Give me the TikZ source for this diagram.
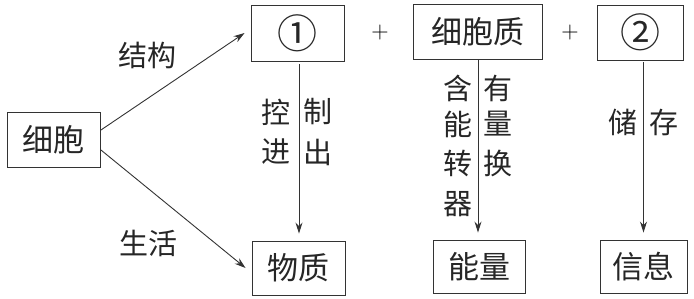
\documentclass[tikz,border=0pt]{standalone}
\usepackage{fontspec}
\newfontfamily\cjk{Noto Sans CJK SC}
\usetikzlibrary{arrows.meta}
\begin{document}
\begin{tikzpicture}[x=1pt,y=-1pt,
  box/.style={draw=black!80,line width=0.9pt,inner sep=0pt,font=\cjk\fontsize{31}{36}\selectfont,text=black!85},
  lbl/.style={inner sep=0pt,font=\cjk\fontsize{29}{34}\selectfont,text=black!85},
  circ/.style={font=\cjk\fontsize{40}{44}\selectfont},
  conn/.style={draw=black!80,line width=0.9pt,-{Stealth[length=11pt,width=7pt]}},
  plus/.style={inner sep=0pt,font=\fontsize{24}{28}\selectfont,text=black}]
\useasboundingbox (0,0) rectangle (694,298);
\node[box,minimum width=93pt,minimum height=55pt] (cell) at (54,140) {细胞};
\node[box,circ,minimum width=93pt,minimum height=56pt] (n1) at (297.5,33) {①};
\node[box,minimum width=129pt,minimum height=55pt] (cyto) at (477.5,31.5) {细胞质};
\node[box,circ,minimum width=86pt,minimum height=55pt] (n2) at (640,32.5) {②};
\node[box,minimum width=93pt,minimum height=54pt] (wz) at (298.5,268) {物质};
\node[box,minimum width=92pt,minimum height=53pt] (nl) at (479,266.5) {能量};
\node[box,minimum width=87pt,minimum height=53pt] (xx) at (643.5,266.5) {信息};
\node[plus] (p1) at (380,33) {+};
\node[plus] (p2) at (570,33) {+};
\draw[conn] ([yshift=10pt]cell.east) -- ([xshift=-6pt]n1.west);
\draw[conn] ([yshift=-10pt]cell.east) -- ([xshift=-6pt]wz.west);
\draw[conn,shorten <=3pt,shorten >=7pt] ([xshift=1.5pt]n1.south) -- ([xshift=1.5pt]n1.south |- wz.north);
\draw[conn,shorten <=1pt,shorten >=7pt] ([xshift=0.5pt]cyto.south) -- ([xshift=0.5pt]cyto.south |- nl.north);
\draw[conn,shorten <=2pt,shorten >=7pt] (xx.north |- n2.south) -- (xx.north);
\node[lbl] (l1) at (147,55) {结构};
\node[lbl] (l2) at (148,243) {生活};
\node[lbl] (k1) at (276,112) {控};
\node[lbl] (k2) at (276,152) {进};
\node[lbl] (k3) at (318,112) {制};
\node[lbl] (k4) at (318,152) {出};
\node[lbl] (h1) at (458,88) {含};
\node[lbl] (h2) at (458,124) {能};
\node[lbl] (h3) at (458,163) {转};
\node[lbl] (h4) at (458,204) {器};
\node[lbl] (y1) at (498,88) {有};
\node[lbl] (y2) at (498,124) {量};
\node[lbl] (y3) at (498,163) {换};
\node[lbl] (c1) at (623,122) {储};
\node[lbl] (c2) at (664,122) {存};
\end{tikzpicture}
\end{document}
